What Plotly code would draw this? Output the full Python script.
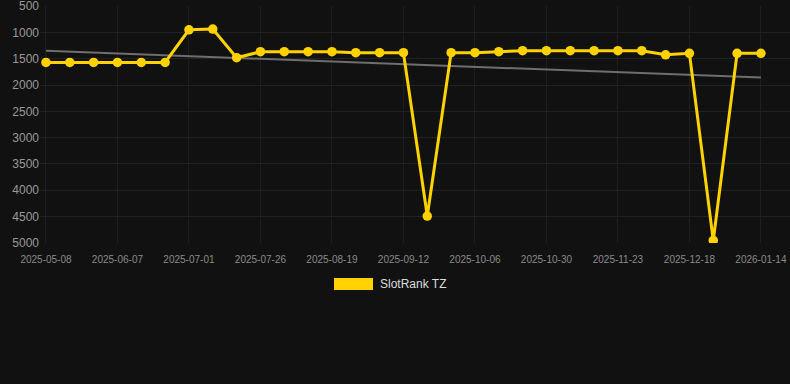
import numpy as np
import plotly.graph_objects as go

dates = ["2025-05-08", "2025-05-18", "2025-05-28", "2025-06-07", "2025-06-15", "2025-06-23",
         "2025-07-01", "2025-07-09", "2025-07-17", "2025-07-26", "2025-08-03", "2025-08-11",
         "2025-08-19", "2025-08-27", "2025-09-04", "2025-09-12", "2025-09-20", "2025-09-28",
         "2025-10-06", "2025-10-14", "2025-10-22", "2025-10-30", "2025-11-07", "2025-11-15",
         "2025-11-23", "2025-12-01", "2025-12-09", "2025-12-18", "2025-12-27", "2026-01-05",
         "2026-01-14"]
ranks = [1570, 1570, 1570, 1570, 1570, 1570,
         950, 935, 1480, 1366, 1366, 1366,
         1366, 1385, 1385, 1385, 4490, 1385,
         1385, 1366, 1347, 1347, 1347, 1347,
         1347, 1347, 1425, 1397, 4955, 1397,
         1397]
tick_labels = dates[::3]
y_ticks = list(range(500, 5001, 500))
series_name = "SlotRank TZ"

idx = np.arange(len(dates))
coef = np.polyfit(idx, ranks, 1)
trend = np.polyval(coef, idx)

fig = go.Figure()
fig.add_trace(go.Scatter(x=dates, y=trend, mode="lines",
                         line=dict(color="#6e6e6e", width=2), showlegend=False, hoverinfo="skip"))
fig.add_trace(go.Scatter(x=dates, y=ranks, mode="lines+markers", name=series_name,
                         line=dict(color="#FFD200", width=3),
                         marker=dict(color="#FFD200", size=9.5), showlegend=False))

fig.update_layout(
    width=790, height=384,
    paper_bgcolor="#111111", plot_bgcolor="#111111",
    margin=dict(l=40, r=0, t=6, b=141),
    font=dict(family="Arial, Liberation Sans, sans-serif", color="#999999"),
    xaxis=dict(type="category", range=[-0.25, 31.22],
               tickmode="array", tickvals=tick_labels, ticktext=tick_labels,
               showgrid=True, gridcolor="#1e1e1e", gridwidth=1, zeroline=False,
               tickfont=dict(size=10, color="#8a8a8a"), ticks="", ticklabelstandoff=9,
               showline=False, ticklabeloverflow="allow"),
    yaxis=dict(range=[5003, 497], tickmode="array", tickvals=y_ticks,
               showgrid=True, gridcolor="#222222", gridwidth=1, zeroline=False,
               tickfont=dict(size=12, color="#999999"), ticks="", showline=False,
               ticklabeloverflow="allow"),
    shapes=[dict(type="rect", xref="paper", yref="paper",
                 x0=(334 - 40) / 750, x1=(373 - 40) / 750,
                 y0=(384 - 141 - 290) / 237, y1=(384 - 141 - 278) / 237,
                 fillcolor="#FFD200", line=dict(width=0))],
    annotations=[dict(text=series_name, xref="paper", yref="paper",
                      x=(378 - 40) / 750, y=(384 - 141 - 284) / 237,
                      xanchor="left", yanchor="middle", showarrow=False,
                      font=dict(size=12, color="#dddddd"))],
)

fig.write_html("out.html", config={"displayModeBar": False},
               post_script="document.body.style.margin='0';")
